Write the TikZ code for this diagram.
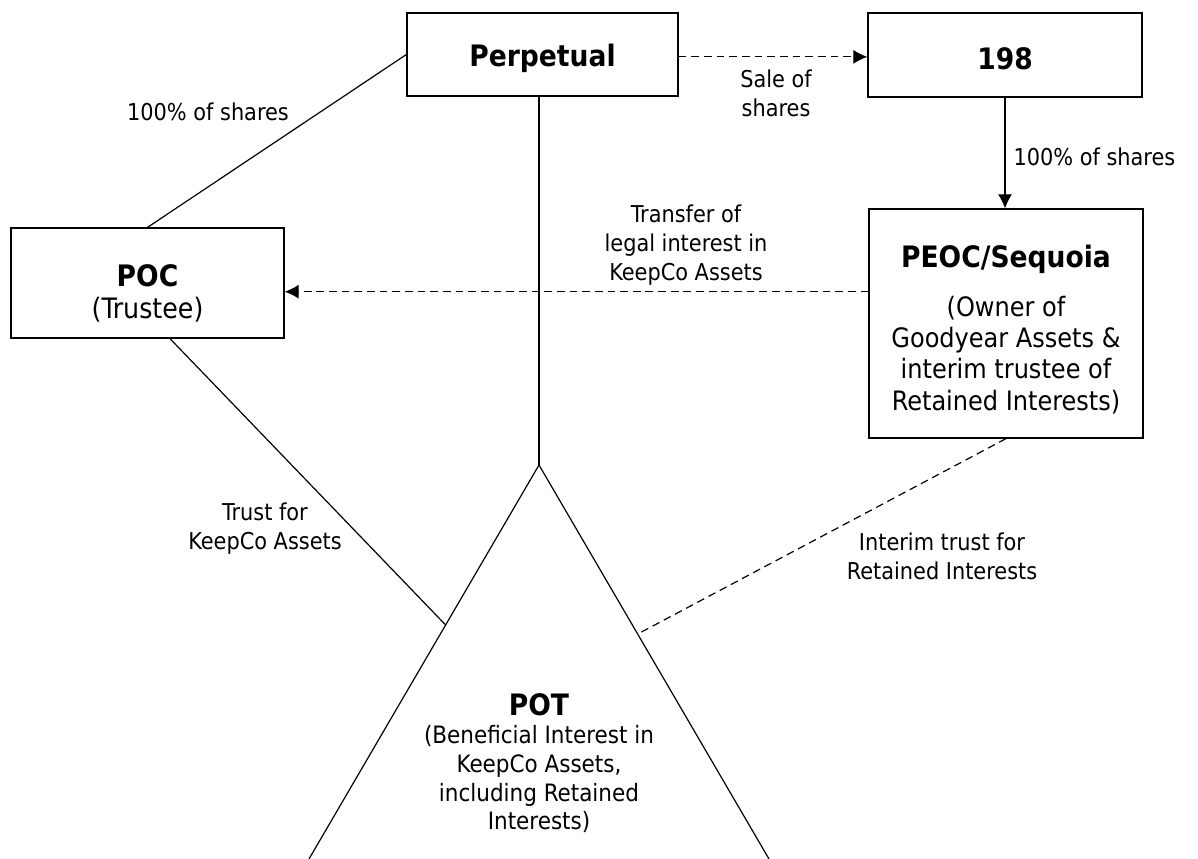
\documentclass[tikz,border=0pt]{standalone}
\usepackage{fontspec}
\setmainfont{DejaVu Sans Condensed}
\usetikzlibrary{positioning,arrows.meta,calc}
\newcommand{\headfont}{\fontsize{21}{25}\selectfont\bfseries}

\begin{document}
\begin{tikzpicture}[
 x=0.025cm, y=-0.025cm,
 font=\fontsize{16.5}{20.6}\selectfont,
 line width=0.85pt,
 box/.style={draw, rectangle, align=center, inner sep=2pt},
 lbl/.style={align=center, inner sep=0pt},
 arrow/.style={->, >={Latex[length=10pt,width=10pt]}},
 dashline/.style={dash pattern=on 5.5pt off 3.5pt}
]
\useasboundingbox (0,0) rectangle (1198,859);

% boxes
\node[box, minimum width=6.775cm, minimum height=2.075cm, text height=21pt] (perp) at (542.5,54.5) {\headfont Perpetual};
\node[box, minimum width=6.85cm, minimum height=2.1cm, text height=21pt] (n198) at (1005,55) {\headfont 198};
\node[box, minimum width=6.825cm, minimum height=2.75cm, font=\fontsize{20}{25}\selectfont] (poc) at (147.5,283) {\rule{0pt}{30pt}{\headfont POC}\\[-2pt](Trustee)};
\node[box, minimum width=6.85cm, minimum height=5.725cm, font=\fontsize{19}{22.2}\selectfont] (peoc) at (1006,323.5) {
\rule{0pt}{24pt}{\headfont PEOC/Sequoia}\\[13pt]
(Owner of\\
Goodyear Assets \&\\
interim trustee of\\
Retained Interests)
};

% triangle (POT)
\coordinate (apex) at (539,465);
\coordinate (potl) at (309,859);
\coordinate (potr) at (769,859);
\draw (potl) -- (apex) -- (potr);
\node[lbl, font=\fontsize{17}{20.4}\selectfont] (pot) at (539,763) {
{\headfont POT}\\
(Beneficial Interest in\\
KeepCo Assets,\\
including Retained\\
Interests)
};

% labels
\node[lbl] (shares1) at (208,112) {100\% of shares};
\node[lbl] (sale) at (776,93) {Sale of\\shares};
\node[lbl, anchor=west] (shares2) at (1013,157) {100\% of shares};
\node[lbl] (transfer) at (686,245) {Transfer of\\legal interest in\\KeepCo Assets};
\node[lbl] (trust) at (265,529) {Trust for\\KeepCo Assets};
\node[lbl] (interim) at (942,556) {Interim trust for\\Retained Interests};

% lines
\draw (perp.west) -- (poc.north);
\draw (apex |- perp.south) -- (apex);
\draw[arrow, dashline] (perp.-1) -- (n198.west |- perp.-1);
\draw[arrow] (n198.south) -- (n198.south |- peoc.north);
\draw[arrow, dashline] (peoc.167) -- (poc.east |- peoc.167);
\draw (poc.-68) -- ($(apex)!0.406!(potl)$);
\draw[dashline] (peoc.south) -- ($(apex)!0.429!(potr)$);

\end{tikzpicture}
\end{document}
